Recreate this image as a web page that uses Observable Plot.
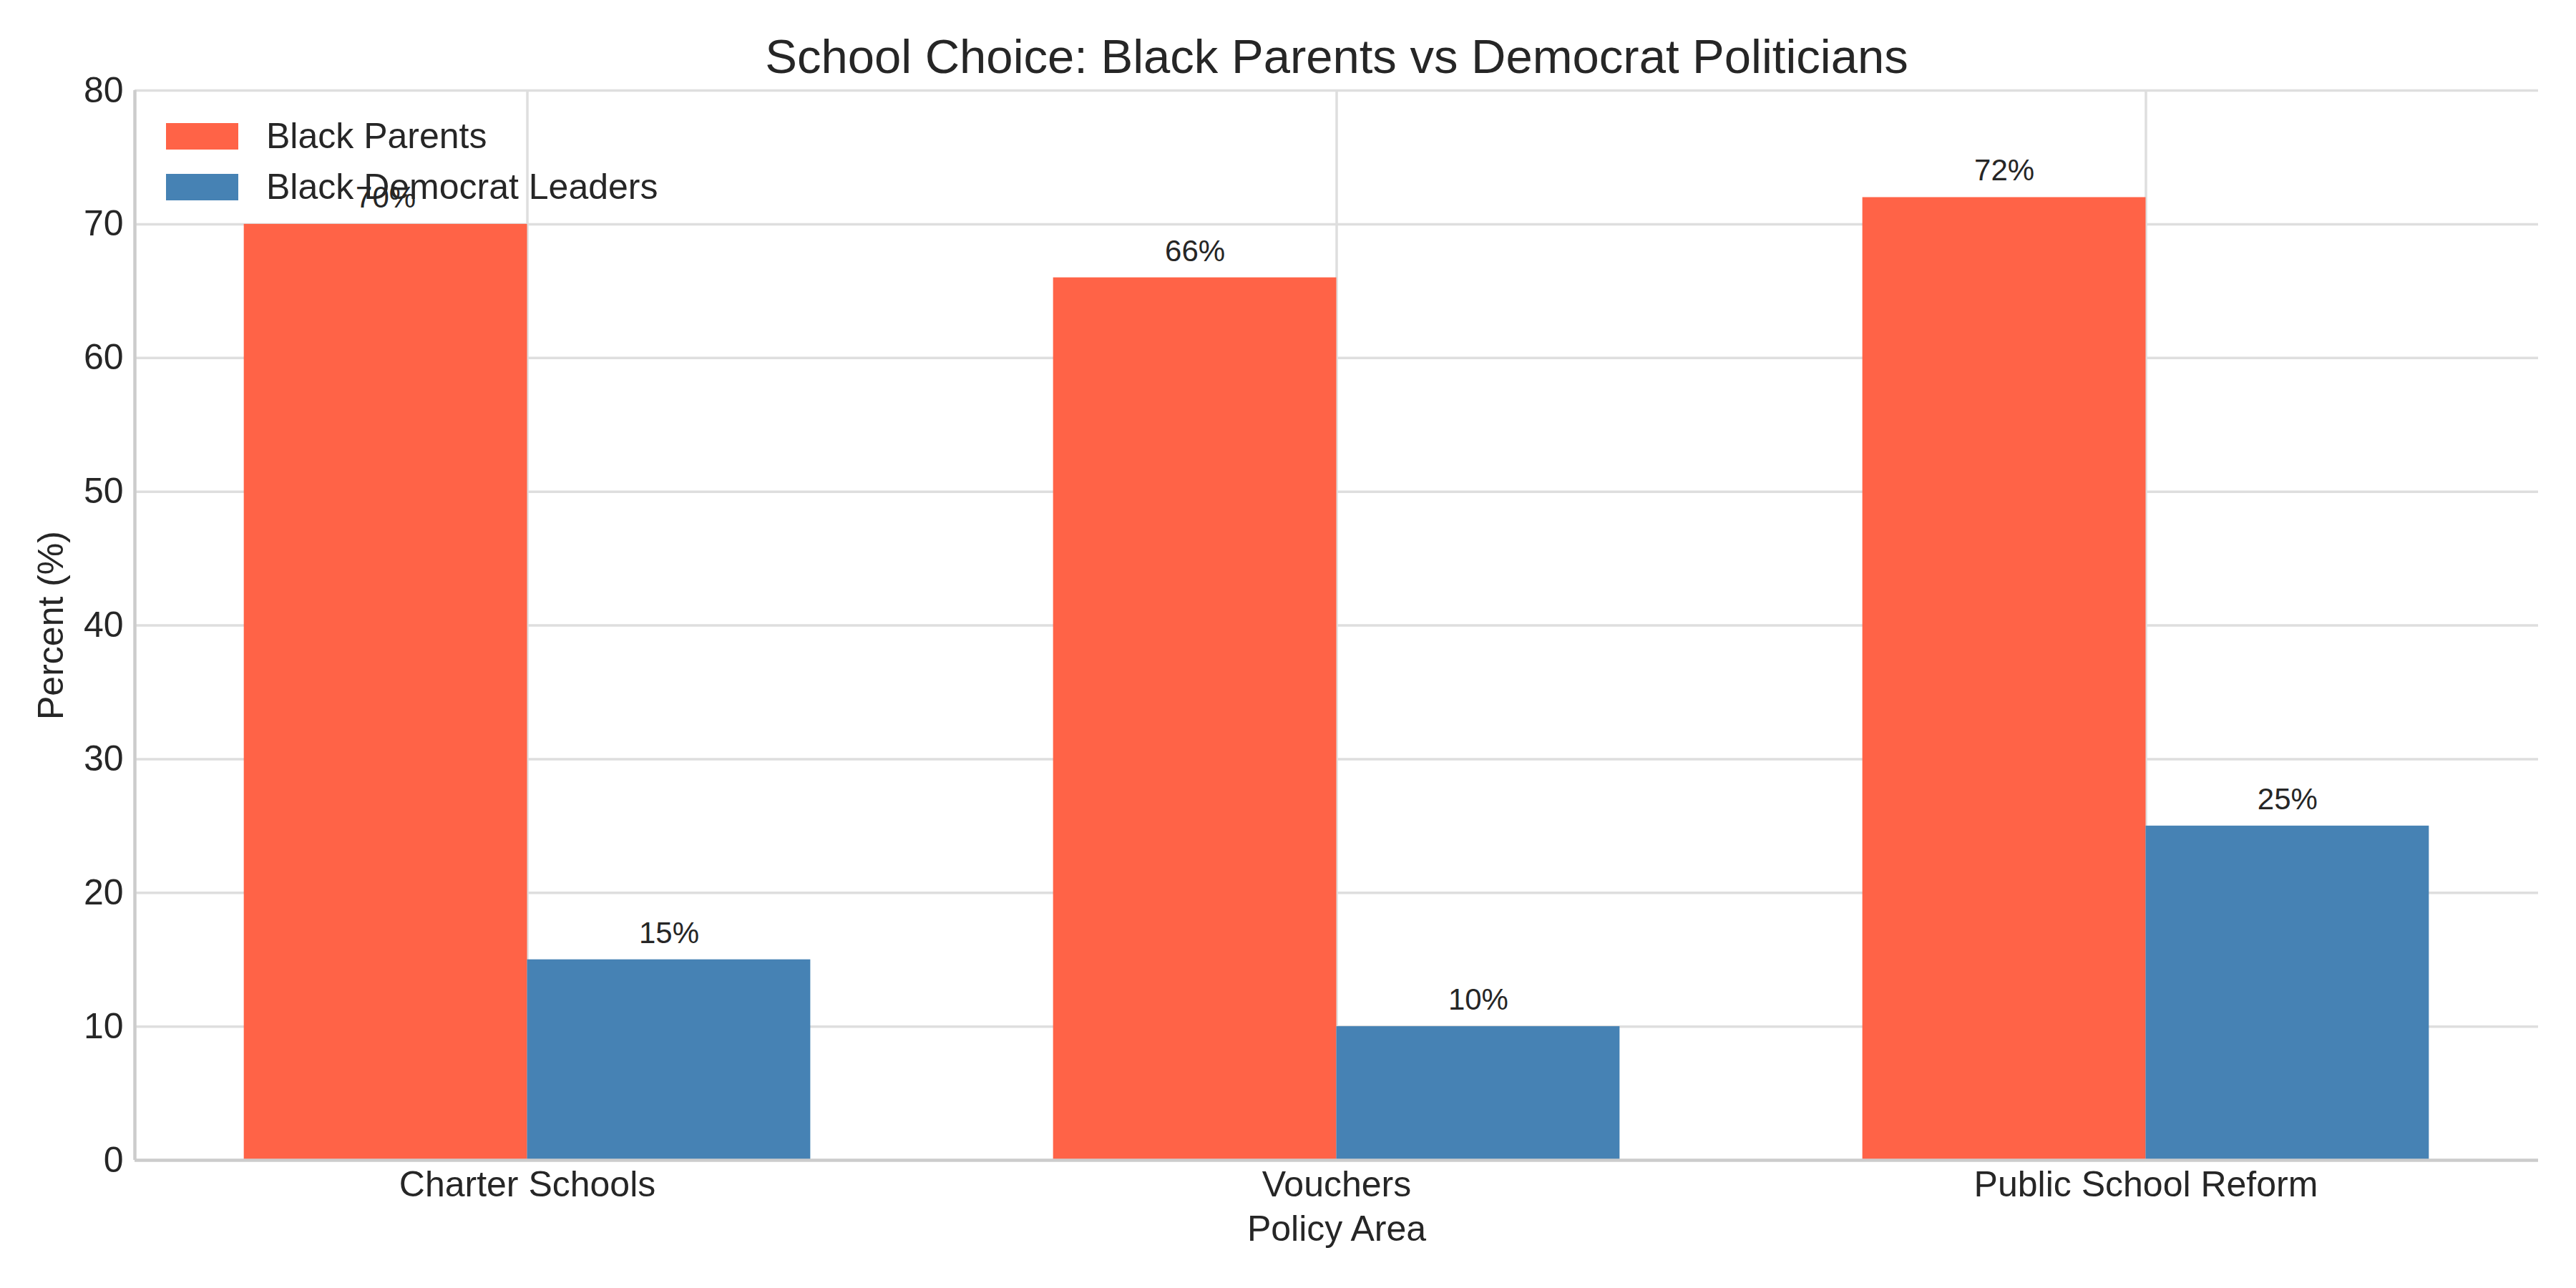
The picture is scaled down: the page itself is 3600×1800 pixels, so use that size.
<!DOCTYPE html>
<html><head><meta charset="utf-8">
<script src="https://cdn.jsdelivr.net/npm/d3@7"></script>
<script src="https://cdn.jsdelivr.net/npm/@observablehq/plot@0.6"></script>
<style>
html,body{margin:0;padding:0;background:#fff;}
#chart{position:relative;width:3600px;height:1800px;font-family:"Liberation Sans",Arial,sans-serif;color:#262626;}
#legend{position:absolute;left:232px;top:172px;}
.item{display:flex;align-items:center;height:37px;margin-bottom:34px;}
.sw{width:101px;height:37px;display:inline-block;}
.lab{margin-left:39px;font-size:50px;line-height:37px;white-space:nowrap;}
</style></head><body><div id="chart"></div>
<script>
const categories = ["Charter Schools", "Vouchers", "Public School Reform"];
const seriesNames = ["Black Parents", "Black Democrat Leaders"];
const blackParents = [70, 66, 72];
const blackDemocratLeaders = [15, 10, 25];
const yTicks = [0, 10, 20, 30, 40, 50, 60, 70, 80];
const colors = ["#FF6347", "#4682B4"];
const titleText = "School Choice: Black Parents vs Democrat Politicians";
const xLabel = "Policy Area";
const yLabel = "Percent (%)";

const barWidth = 0.35;
const data = categories.flatMap((c, i) => [
  {category: c, i, series: seriesNames[0], value: blackParents[i], x1: i - barWidth, x2: i},
  {category: c, i, series: seriesNames[1], value: blackDemocratLeaders[i], x1: i, x2: i + barWidth}
]);
const lo = -barWidth, hi = categories.length - 1 + barWidth;
const pad = 0.05 * (hi - lo);
const xDomain = [lo - pad, hi + pad];
const idx = categories.map((c, i) => i);
const font = '"Liberation Sans", Arial, sans-serif';

const chart = Plot.plot({
  width: 3600, height: 1800,
  marginLeft: 188, marginRight: 53, marginTop: 126, marginBottom: 179,
  style: {fontFamily: font, fontSize: "50px", color: "#262626", background: "white"},
  x: {type: "linear", domain: xDomain},
  y: {domain: [0, 80]},
  color: {domain: seriesNames, range: colors},
  marks: [
    Plot.gridY(yTicks, {stroke: "#dedede", strokeOpacity: 1, strokeWidth: 3.5}),
    Plot.gridX(idx, {stroke: "#dedede", strokeOpacity: 1, strokeWidth: 3.5}),
    Plot.rect(data, {x1: "x1", x2: "x2", y1: 0, y2: "value", fill: "series"}),
    Plot.ruleY([0], {stroke: "#cccccc", strokeWidth: 4.5}),
    Plot.ruleX([xDomain[0]], {stroke: "#cccccc", strokeWidth: 4.5}),
    Plot.axisX({ticks: idx, tickFormat: i => categories[i], tickSize: 0, tickPadding: 15, label: null, fontSize: 50}),
    Plot.axisY({ticks: yTicks, tickSize: 0, tickPadding: 16, label: null, fontSize: 50, tickFormat: d => String(d)}),
    Plot.text(data, {x: d => (d.x1 + d.x2) / 2, y: "value", text: d => d.value + "%", dy: -37, fontSize: 42, fill: "#262626"}),
    Plot.text([titleText], {frameAnchor: "top", lineAnchor: "middle", textAnchor: "middle", dy: -46, fontSize: 67, fill: "#262626"}),
    Plot.text([yLabel], {frameAnchor: "left", lineAnchor: "middle", textAnchor: "middle", dx: -117, rotate: -90, fontSize: 50, fill: "#262626"}),
    Plot.text([xLabel], {frameAnchor: "bottom", lineAnchor: "middle", textAnchor: "middle", dy: 96, fontSize: 50, fill: "#262626"})
  ]
});
const root = document.getElementById("chart");
root.appendChild(chart);
const legend = document.createElement("div");
legend.id = "legend";
seriesNames.forEach((s, k) => {
  const item = document.createElement("div");
  item.className = "item";
  const sw = document.createElement("span");
  sw.className = "sw";
  sw.style.background = colors[k];
  const lab = document.createElement("span");
  lab.className = "lab";
  lab.textContent = s;
  item.appendChild(sw); item.appendChild(lab);
  legend.appendChild(item);
});
root.appendChild(legend);
</script></body></html>
